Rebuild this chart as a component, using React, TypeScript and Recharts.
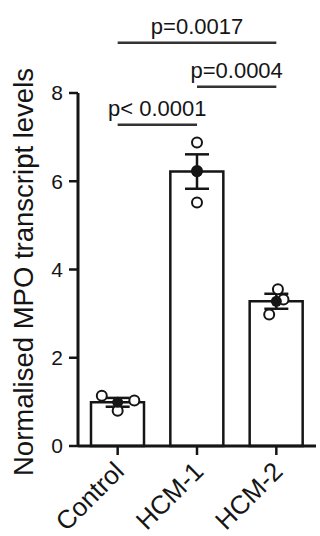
import {
  ComposedChart,
  Bar,
  Scatter,
  ErrorBar,
  XAxis,
  YAxis,
  ReferenceLine,
} from "recharts";

const groups = ["Control", "HCM-1", "HCM-2"];
const means = [0.99, 6.22, 3.28];
const sems = [0.1, 0.39, 0.17];

// individual replicates per group, with horizontal jitter in category units
const controlPoints = [1.14, 0.8, 1.03];
const controlJitter = [-0.2, 0, 0.21];
const hcm1Points = [6.88, 6.23, 5.52];
const hcm1Jitter = [0, 0, 0];
const hcm2Points = [3.55, 3.32, 2.98];
const hcm2Jitter = [0.02, 0.09, -0.09];

const yTicks = [0, 2, 4, 6, 8];

const comparisons = [
  { from: "Control", to: "HCM-2", level: 9.14, label: "p=0.0017" },
  { from: "HCM-1", to: "HCM-2", level: 8.14, label: "p=0.0004" },
  { from: "Control", to: "HCM-1", level: 7.28, label: "p< 0.0001" },
];

const FONT = "'Liberation Sans', Arial, sans-serif";
const INK = "#151515";

const barData = groups.map((g, i) => ({ name: g, mean: means[i] }));
const meanData = groups.map((g, i) => ({ x: i, y: means[i], sem: sems[i] }));
const pointData = [
  ...controlPoints.map((v, k) => ({ x: 0 + controlJitter[k], y: v })),
  ...hcm1Points.map((v, k) => ({ x: 1 + hcm1Jitter[k], y: v })),
  ...hcm2Points.map((v, k) => ({ x: 2 + hcm2Jitter[k], y: v })),
];

const OpenDot = (props: any) => (
  <circle cx={props.cx} cy={props.cy} r={5} fill="#fff" stroke={INK} strokeWidth={2} />
);

const MeanDot = (props: any) => (
  <circle cx={props.cx} cy={props.cy} r={5.5} fill={INK} />
);

const XTick = ({ x, y, payload }: any) => (
  <text
    x={x + 8}
    y={y + 16}
    transform={`rotate(-45, ${x + 8}, ${y + 16})`}
    textAnchor="end"
    fontSize={26}
    fontFamily={FONT}
    fill={INK}
  >
    {payload.value}
  </text>
);

const YLabel = () => (
  <text
    x={33}
    y={272}
    transform="rotate(-90, 33, 272)"
    textAnchor="middle"
    fontSize={27.5}
    fontFamily={FONT}
    fill={INK}
  >
    Normalised MPO transcript levels
  </text>
);

export default function App() {
  return (
    <div style={{ position: "absolute", left: 0, top: 0, background: "#fff" }}>
      <ComposedChart
        width={320}
        height={536}
        data={barData}
        margin={{ top: 93, right: 4, bottom: 0, left: 0 }}
      >
        <XAxis
          dataKey="name"
          height={90}
          stroke={INK}
          axisLine={{ stroke: INK, strokeWidth: 3 }}
          tickLine={{ stroke: INK, strokeWidth: 2.5 }}
          tickSize={9}
          tick={<XTick />}
          interval={0}
        />
        <XAxis xAxisId="pts" dataKey="x" type="number" domain={[-0.5, 2.5]} hide />
        <YAxis
          width={78}
          domain={[0, 8]}
          ticks={yTicks}
          stroke={INK}
          axisLine={{ stroke: INK, strokeWidth: 3 }}
          tickLine={{ stroke: INK, strokeWidth: 2.5 }}
          tickSize={9}
          tickMargin={6}
          tick={{ fill: INK, fontSize: 21, fontFamily: FONT }}
          label={<YLabel />}
        />
        <Bar
          dataKey="mean"
          barSize={53}
          fill="#fff"
          stroke={INK}
          strokeWidth={2.5}
          isAnimationActive={false}
        />
        <Scatter
          data={pointData}
          xAxisId="pts"
          dataKey="y"
          shape={<OpenDot />}
          isAnimationActive={false}
        />
        <Scatter
          data={meanData}
          xAxisId="pts"
          dataKey="y"
          shape={<MeanDot />}
          isAnimationActive={false}
        >
          <ErrorBar dataKey="sem" direction="y" width={12} stroke={INK} strokeWidth={2.5} />
        </Scatter>
        {comparisons.map((c) => (
          <ReferenceLine
            key={c.label}
            segment={[
              { x: c.from, y: c.level },
              { x: c.to, y: c.level },
            ]}
            ifOverflow="visible"
            stroke="#333"
            strokeWidth={2.5}
            label={{
              value: c.label,
              position: "top",
              offset: 9,
              fill: INK,
              fontSize: 22,
              fontFamily: FONT,
            }}
          />
        ))}
      </ComposedChart>
    </div>
  );
}
